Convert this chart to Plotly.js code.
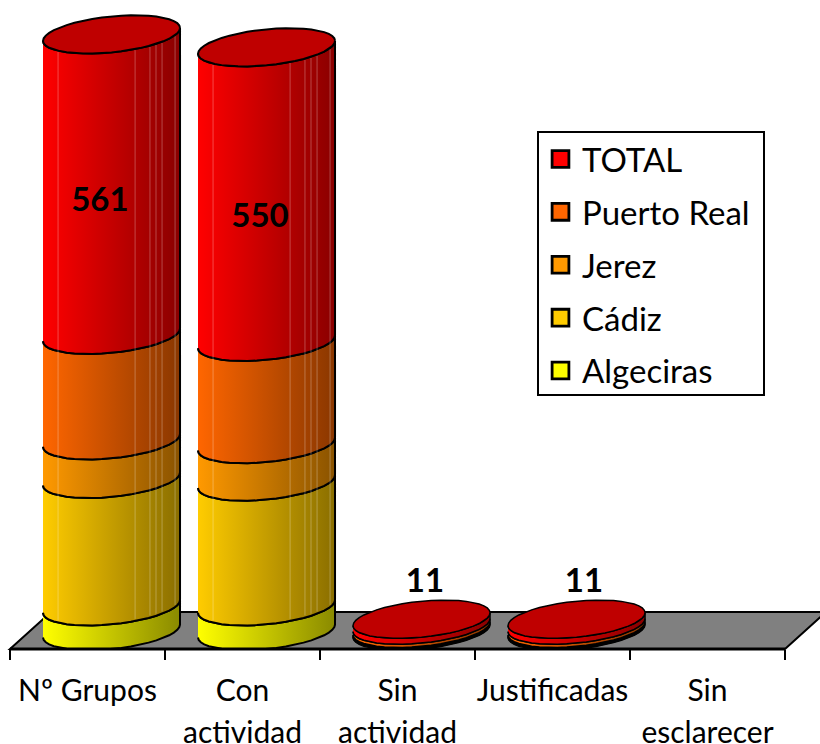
<!DOCTYPE html>
<html><head><meta charset="utf-8">
<script src="https://cdn.plot.ly/plotly-3.0.1.min.js"></script>
<style>html,body{margin:0;padding:0;background:#fff}</style></head>
<body><div id="chart" style="width:820px;height:744px"></div>
<script>
const line1 = ['Nº Grupos','Con','Sin','Justificadas','Sin'];
const line2 = ['','actividad','actividad','','esclarecer'];
const algeciras = [46,46,1,1,0];
const cadiz = [238,233,2,2,0];
const jerez = [72,70,2,2,0];
const puertoReal = [197,191,6,6,0];
const total = [561,550,11,11,0];

const seriesNames = ['Algeciras','Cádiz','Jerez','Puerto Real','TOTAL'];
const seriesValues = [algeciras,cadiz,jerez,puertoReal,total];
const seriesColors = ['#ffff00','#ffcc00','#ff9900','#ff6600','#ff0000'];
const darkColors = ['#8a8a00','#8a6e00','#8a5300','#8a3700','#8a0000'];
const capColor = '#bf0000';

// drawing proportions in axis units
const depthX = 0.155, radX = 0.442, radY = 33.6, tilt = 12.1;
const nArc = 22;
const streakOffsets = [-0.345,0.152,0.248,0.287,0.326,0.41];

function frontArc(c,v,rev){
  const xs=[],ys=[];
  for(let k=0;k<=nArc;k++){
    const t=Math.PI+Math.PI*(rev?nArc-k:k)/nArc;
    xs.push(c+radX*Math.cos(t));
    ys.push(v+tilt*Math.cos(t)+radY*Math.sin(t));
  }
  return [xs,ys];
}
function arcY(dx,v){
  const co=dx/radX;
  return v+tilt*co-radY*Math.sqrt(1-co*co);
}
const traces=[];
for(let i=0;i<line1.length;i++){
  if(total[i]===0) continue;
  const c=i+depthX; let base=0;
  const lw = total[i]>100 ? 2 : 1.5;
  seriesValues.forEach((vals,s)=>{
    const a=frontArc(c,base,false), b=frontArc(c,base+vals[i],true);
    traces.push({type:'scatter',mode:'lines',x:a[0].concat(b[0]),y:a[1].concat(b[1]),
      fill:'toself',line:{color:'#000',width:lw},showlegend:false,hoverinfo:'skip',
      fillgradient:{type:'horizontal',colorscale:[[0,seriesColors[s]],[1,darkColors[s]]]}});
    base+=vals[i];
  });
  if(total[i]>100){
    const sx=[],sy=[];
    streakOffsets.forEach(d=>{
      sx.push(c+d,c+d,null);
      sy.push(arcY(d,algeciras[i]+4),arcY(d,base)-2,null);
    });
    traces.push({type:'scatter',mode:'lines',x:sx,y:sy,line:{color:'rgba(255,255,255,0.28)',width:1},
      showlegend:false,hoverinfo:'skip'});
  }
  const xs=[],ys=[];
  for(let k=0;k<=2*nArc;k++){
    const t=Math.PI*k/nArc;
    xs.push(c+radX*Math.cos(t));
    ys.push(base+tilt*Math.cos(t)+radY*Math.sin(t));
  }
  traces.push({type:'scatter',mode:'lines',x:xs,y:ys,fill:'toself',fillcolor:capColor,
    line:{color:'#000',width:lw},showlegend:false,hoverinfo:'skip'});
}
// data labels
const below = total.map((_,i)=>algeciras[i]+cadiz[i]+jerez[i]+puertoReal[i]);
const labelIdx=[0,1,2,3];
const labelShift=[-0.075,-0.042,0.022,0.048];
const labelFrac=[0.44,0.417];
traces.push({type:'scatter',mode:'text',
  x:labelIdx.map(i=>i+depthX+labelShift[i]),
  y:labelIdx.map(i=>total[i]>100?below[i]+total[i]*labelFrac[i]:below[i]+total[i]+67),
  text:labelIdx.map(i=>String(total[i])),textposition:'middle center',
  textfont:{family:'Lato',size:33,color:'#000',weight:700},showlegend:false,hoverinfo:'skip',cliponaxis:false});
// legend entries
for(let s=seriesNames.length-1;s>=0;s--){
  traces.push({type:'scatter',mode:'markers',x:[null],y:[null],name:seriesNames[s],legendgroup:seriesNames[s],
    marker:{symbol:'square',size:16,color:seriesColors[s],line:{color:'#000',width:2}}});
}
// second line of tick labels
traces.push({type:'scatter',mode:'markers',x:[null],y:[null],xaxis:'x2',showlegend:false,hoverinfo:'skip'});

const W=820,H=649;
const px=v=>(v/W).toFixed(5), py=v=>((H-v)/H).toFixed(5);
const layout={
  width:820,height:744,margin:{l:0,r:0,t:0,b:95},paper_bgcolor:'#fff',plot_bgcolor:'rgba(0,0,0,0)',
  font:{family:'Lato',color:'#000'},
  xaxis:{range:[-0.5645,4.7258],showgrid:false,zeroline:false,showline:false,fixedrange:true,
    tickmode:'array',tickvals:[0,1,2,3,4],ticktext:line1,ticks:'',tickfont:{size:30,family:'Lato'},ticklabelstandoff:21,
    minor:{tickmode:'array',tickvals:[-0.5,0.5,1.5,2.5,3.5,4.5],ticks:'outside',ticklen:10,tickwidth:2,tickcolor:'#000',showgrid:false}},
  xaxis2:{range:[-0.5645,4.7258],overlaying:'x',side:'bottom',anchor:'y',showgrid:false,zeroline:false,showline:false,
    tickmode:'array',tickvals:[0,1,2,3,4],ticktext:line2,ticks:'',tickfont:{size:30,family:'Lato'},ticklabelstandoff:63},
  yaxis:{range:[-33.6,1178.3],visible:false,fixedrange:true},
  legend:{x:537/W,y:(H-129)/H,xanchor:'left',yanchor:'top',bgcolor:'#fff',bordercolor:'#000',borderwidth:2,
    font:{size:33,family:'Lato',color:'#000'},itemwidth:33,tracegroupgap:7,traceorder:'grouped',itemsizing:'constant'},
  shapes:[
    {type:'path',xref:'paper',yref:'paper',layer:'below',fillcolor:'#808080',line:{color:'#000',width:2},
     path:`M${px(10)},${py(649)} L${px(785)},${py(649)} L${px(826)},${py(612)} L${px(51)},${py(612)} Z`},
    {type:'path',xref:'paper',yref:'paper',layer:'above',line:{color:'#000',width:3},
     path:`M${px(10)},${py(649)} L${px(785)},${py(649)}`}
  ]
};
Plotly.newPlot('chart',traces,layout,{displayModeBar:false,staticPlot:true}).then(gd=>{
  gd.querySelectorAll('.legend .legendpoints path.scatterpts').forEach(p=>{
    p.setAttribute('transform',(p.getAttribute('transform')||'')+' scale(1.4)');
  });
  const bg=gd.querySelector('.legend rect.bg');
  if(bg){bg.setAttribute('y',3);bg.setAttribute('height',263);bg.setAttribute('width',226);}
});
</script></body></html>
